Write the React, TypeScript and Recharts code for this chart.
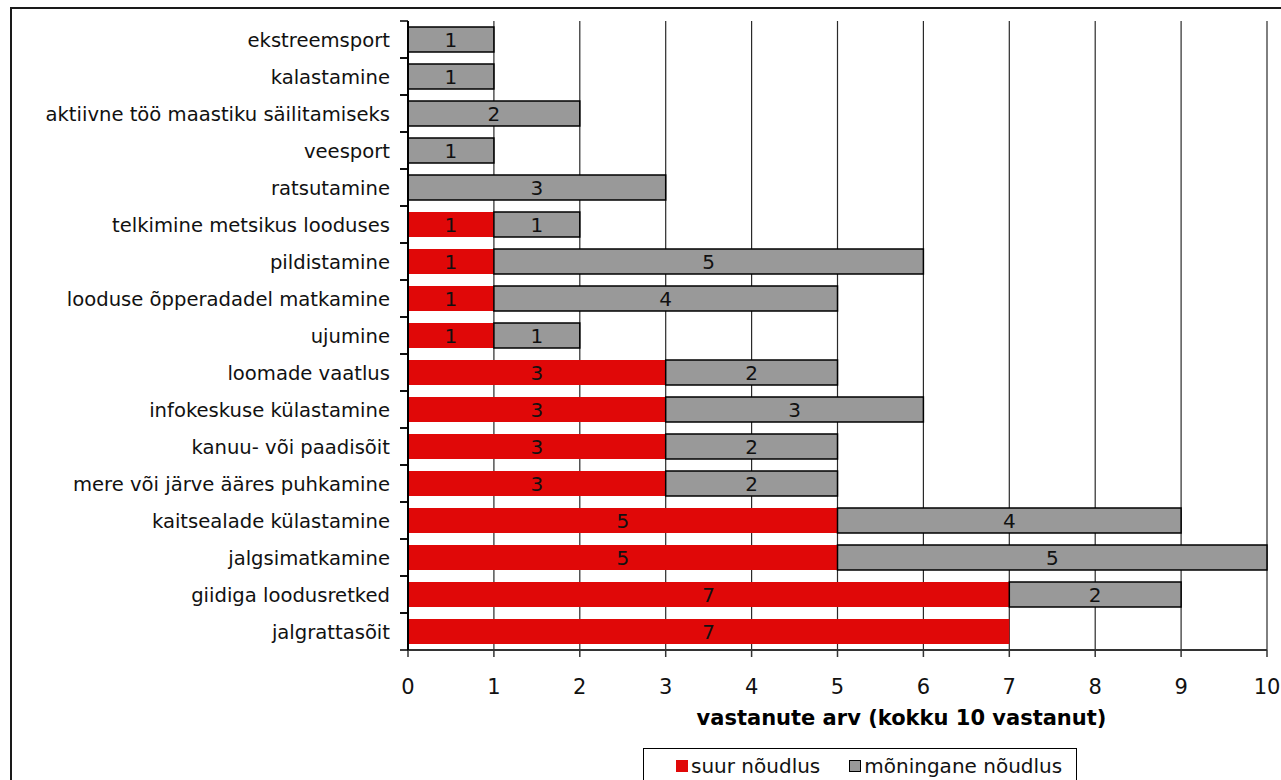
import React from 'react';
import { BarChart, Bar, XAxis, YAxis, CartesianGrid, LabelList } from 'recharts';

// activities, listed from top to bottom
const activities = [
  'ekstreemsport',
  'kalastamine',
  'aktiivne töö maastiku säilitamiseks',
  'veesport',
  'ratsutamine',
  'telkimine metsikus looduses',
  'pildistamine',
  'looduse õpperadadel matkamine',
  'ujumine',
  'loomade vaatlus',
  'infokeskuse külastamine',
  'kanuu- või paadisõit',
  'mere või järve ääres puhkamine',
  'kaitsealade külastamine',
  'jalgsimatkamine',
  'giidiga loodusretked',
  'jalgrattasõit',
];

const strongDemand = [0, 0, 0, 0, 0, 1, 1, 1, 1, 3, 3, 3, 3, 5, 5, 7, 7];
const someDemand = [1, 1, 2, 1, 3, 1, 5, 4, 1, 2, 3, 2, 2, 4, 5, 2, 0];

const xTicks = [0, 1, 2, 3, 4, 5, 6, 7, 8, 9, 10];

const SERIES = [
  { key: 'strong', name: 'suur nõudlus', color: '#e00808', stroke: 'none' },
  { key: 'some', name: 'mõningane nõudlus', color: '#999999', stroke: '#000' },
];

const data = activities.map((name, i) => ({
  name,
  strong: strongDemand[i],
  some: someDemand[i],
}));

const FONT = '"DejaVu Sans", Verdana, sans-serif';

// category label plus Excel-style tick marks on the band edges
function ActivityTick(props: any) {
  const { x, y, payload } = props;
  const half = payload?.offset ?? 18.5;
  return (
    <g>
      <line x1={x + 10} x2={x + 18} y1={y - half} y2={y - half} stroke="#000" strokeWidth={1.5} />
      <line x1={x + 10} x2={x + 18} y1={y + half} y2={y + half} stroke="#000" strokeWidth={1.5} />
      <text x={x} y={y} dy="0.36em" textAnchor="end" fontSize={19.6} fill="#111" fontFamily={FONT}>
        {payload.value}
      </text>
    </g>
  );
}

const hideZero = (v: any) => (v ? v : '');

export default function App() {
  return (
    <div
      style={{
        position: 'absolute',
        left: 0,
        top: 0,
        width: 1281,
        height: 780,
        overflow: 'hidden',
        background: '#fff',
        fontFamily: FONT,
      }}
    >
      <div
        style={{
          position: 'absolute',
          left: 10,
          top: 7,
          width: 1320,
          height: 820,
          border: '2px solid #1a1a1a',
          boxSizing: 'border-box',
        }}
      />
      <div style={{ position: 'absolute', left: 0, top: 0 }}>
        <BarChart
          width={1281}
          height={780}
          data={data}
          layout="vertical"
          margin={{ top: 21, right: 14, bottom: 50, left: 0 }}
        >
          <CartesianGrid horizontal={false} vertical stroke="#2a2a2a" strokeWidth={1.2} />
          <XAxis
            type="number"
            domain={[0, 10]}
            ticks={xTicks}
            interval={0}
            height={80}
            tickSize={7}
            tickMargin={22}
            axisLine={{ stroke: '#333', strokeWidth: 2 }}
            tickLine={{ stroke: '#333', strokeWidth: 1.5 }}
            tick={{ fontSize: 21, fill: '#111', fontFamily: FONT }}
            label={{
              value: 'vastanute arv (kokku 10 vastanut)',
              position: 'insideBottom',
              offset: 5,
              dx: 64,
              style: { fontSize: 21, fontWeight: 'bold', fill: '#000', fontFamily: FONT },
            }}
          />
          <XAxis
            xAxisId="top"
            orientation="top"
            type="number"
            domain={[0, 10]}
            height={0}
            tick={false}
            tickLine={false}
            axisLine={{ stroke: '#888', strokeWidth: 2 }}
          />
          <YAxis
            type="category"
            dataKey="name"
            width={408}
            interval={0}
            tickSize={8}
            tickMargin={10}
            tickLine={false}
            axisLine={{ stroke: '#000', strokeWidth: 2 }}
            tick={<ActivityTick />}
          />
          <YAxis
            yAxisId="right"
            orientation="right"
            type="category"
            dataKey="name"
            width={0}
            tick={false}
            tickLine={false}
            axisLine={{ stroke: '#888', strokeWidth: 2 }}
          />
          {SERIES.map((s) => (
            <Bar
              key={s.key}
              dataKey={s.key}
              name={s.name}
              stackId="demand"
              fill={s.color}
              stroke={s.stroke}
              strokeWidth={1.5}
              barSize={25}
              isAnimationActive={false}
            >
              <LabelList
                dataKey={s.key}
                position="center"
                formatter={hideZero}
                style={{ fontSize: 20, fill: '#111', fontFamily: FONT }}
              />
            </Bar>
          ))}
        </BarChart>
      </div>
      <div
        style={{
          position: 'absolute',
          left: 643,
          top: 748,
          width: 434,
          height: 60,
          border: '1px solid #000',
          boxSizing: 'border-box',
          display: 'flex',
          justifyContent: 'flex-start',
          paddingLeft: 32,
          paddingTop: 5,
          fontSize: 20,
          color: '#111',
        }}
      >
        {SERIES.map((s, i) => (
          <div
            key={s.key}
            style={{ display: 'flex', alignItems: 'center', height: 24, marginLeft: i ? 29 : 0 }}
          >
            <span
              style={{
                display: 'inline-block',
                width: 12,
                height: 12,
                background: s.color,
                border: s.stroke === 'none' ? 'none' : `1px solid ${s.stroke}`,
                boxSizing: 'border-box',
                marginRight: 3,
              }}
            />
            <span>{s.name}</span>
          </div>
        ))}
      </div>
    </div>
  );
}
